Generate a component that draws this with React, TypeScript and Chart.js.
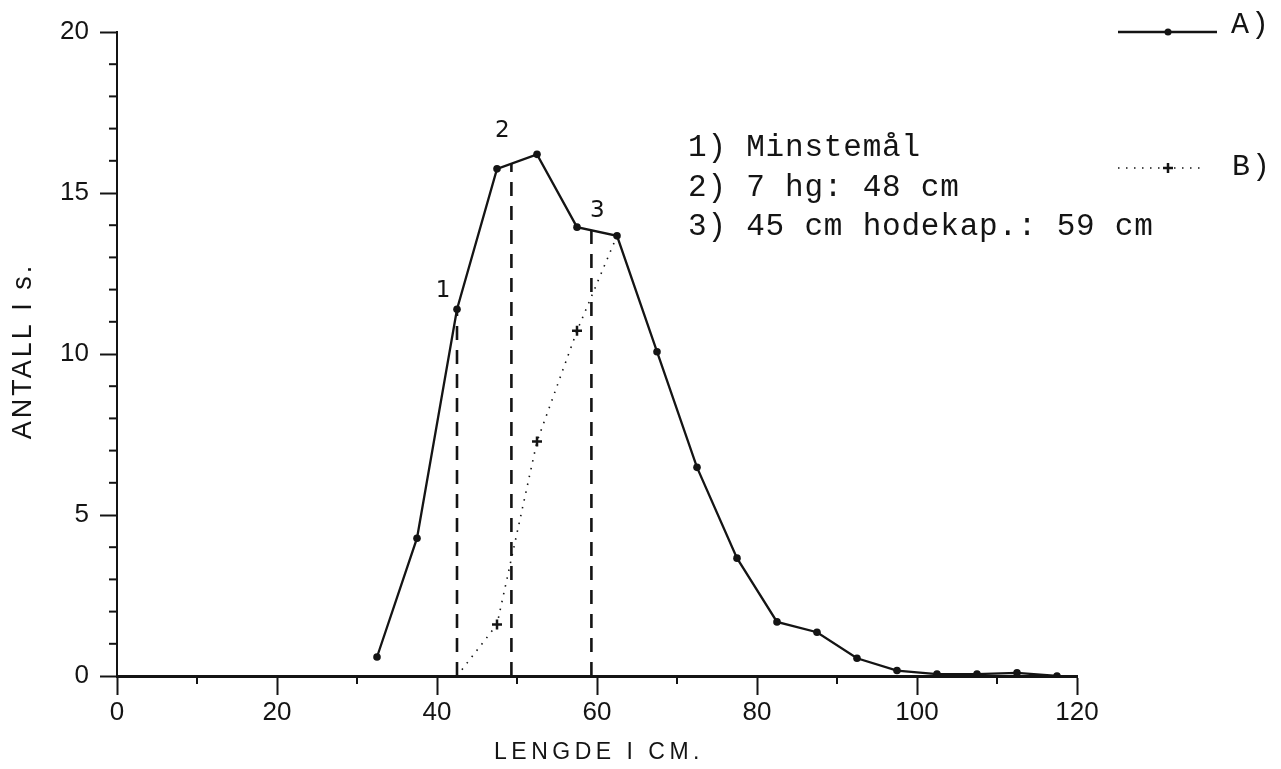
import { useEffect, useRef } from "react";
import { Chart, registerables } from "chart.js";

Chart.register(...registerables);

// ---- data ----
const lengthsA = [32.5, 37.5, 42.5, 47.5, 52.5, 57.5, 62.5, 67.5, 72.5, 77.5, 82.5, 87.5, 92.5, 97.5, 102.5, 107.5, 112.5, 117.5];
const countsA = [0.59, 4.28, 11.39, 15.75, 16.2, 13.94, 13.67, 10.07, 6.48, 3.66, 1.68, 1.36, 0.55, 0.17, 0.06, 0.06, 0.1, 0.0];
const lengthsB = [42.5, 47.5, 52.5, 57.5, 62.5];
const countsB = [0, 1.6, 7.28, 10.72, 13.67];
const markB = [0, 5, 5, 5, 0];
const markerX = [42.5, 49.3, 59.3];
const markerLabels = ["1", "2", "3"];
const notes = ["1) Minstemål", "2) 7 hg: 48 cm", "3) 45 cm hodekap.: 59 cm"];
const legendLabels = ["A)", "B)"];
const xTitle = "LENGDE I CM.";
const yTitle = "ANTALL I s.";
const xRange = [0, 120];
const yRange = [0, 20];
const xMajorStep = 20;
const xMinorStep = 10;
const yMajorStep = 5;
const yMinorStep = 1;

const INK = "#141414";

function valueOnA(x: number): number {
  for (let i = 0; i < lengthsA.length - 1; i++) {
    const x0 = lengthsA[i], x1 = lengthsA[i + 1];
    if (x >= x0 && x <= x1) {
      const t = (x - x0) / (x1 - x0);
      return countsA[i] + t * (countsA[i + 1] - countsA[i]);
    }
  }
  return 0;
}

const markerOffsets = [
  { dx: -14, dy: -18 },
  { dx: -9, dy: -33 },
  { dx: 6, dy: -19 },
];

const decorPlugin = {
  id: "decor",
  afterDraw(chart: any) {
    const ctx: CanvasRenderingContext2D = chart.ctx;
    const xs = chart.scales.x;
    const ys = chart.scales.y;
    const area = chart.chartArea;
    ctx.save();
    ctx.strokeStyle = INK;
    ctx.fillStyle = INK;

    // minor ticks
    ctx.lineWidth = 2;
    for (let v = xRange[0] + xMinorStep; v < xRange[1]; v += xMajorStep) {
      const px = xs.getPixelForValue(v);
      ctx.beginPath();
      ctx.moveTo(px, area.bottom);
      ctx.lineTo(px, area.bottom + 8);
      ctx.stroke();
    }
    for (let v = yRange[0] + yMinorStep; v < yRange[1]; v += yMinorStep) {
      if (v % yMajorStep === 0) continue;
      const py = ys.getPixelForValue(v);
      ctx.beginPath();
      ctx.moveTo(area.left - 8, py);
      ctx.lineTo(area.left, py);
      ctx.stroke();
    }

    // marker labels 1,2,3
    ctx.font = '23px "DejaVu Sans"';
    ctx.textAlign = "center";
    ctx.textBaseline = "middle";
    markerX.forEach((mx, i) => {
      const px = xs.getPixelForValue(mx) + markerOffsets[i].dx;
      const py = ys.getPixelForValue(valueOnA(mx)) + markerOffsets[i].dy;
      ctx.fillText(markerLabels[i], px, py);
    });

    // notes
    ctx.font = '31px "Liberation Mono"';
    (ctx as any).letterSpacing = "0.8px";
    ctx.textAlign = "left";
    ctx.textBaseline = "alphabetic";
    notes.forEach((n, i) => {
      ctx.fillText(n, 688, 156 + i * 39.5);
    });

    // legend
    (ctx as any).letterSpacing = "2px";
    ctx.font = '30px "Liberation Mono"';
    // A
    ctx.lineWidth = 2.4;
    ctx.setLineDash([]);
    ctx.beginPath();
    ctx.moveTo(1118, 32);
    ctx.lineTo(1217, 32);
    ctx.stroke();
    ctx.beginPath();
    ctx.arc(1168, 32, 3.5, 0, Math.PI * 2);
    ctx.fill();
    ctx.fillText(legendLabels[0], 1231, 33);
    // B
    ctx.lineWidth = 1.6;
    ctx.setLineDash([1.5, 6.5]);
    ctx.beginPath();
    ctx.moveTo(1118, 168);
    ctx.lineTo(1202, 168);
    ctx.stroke();
    ctx.setLineDash([]);
    ctx.lineWidth = 2.5;
    ctx.beginPath();
    ctx.moveTo(1163, 168);
    ctx.lineTo(1173, 168);
    ctx.moveTo(1168, 163);
    ctx.lineTo(1168, 173);
    ctx.stroke();
    ctx.fillText(legendLabels[1], 1232, 175);

    // axis titles
    ctx.font = '23px "Liberation Sans"';
    (ctx as any).letterSpacing = "4.5px";
    ctx.textAlign = "center";
    ctx.textBaseline = "middle";
    ctx.fillText(xTitle, 599, 753);
    ctx.save();
    ctx.translate(24, 351);
    ctx.rotate(-Math.PI / 2);
    ctx.font = '27px "Liberation Sans"';
    (ctx as any).letterSpacing = "3px";
    ctx.fillText(yTitle, 0, 0);
    ctx.restore();

    (ctx as any).letterSpacing = "0px";
    ctx.restore();
  },
};

export default function App() {
  const ref = useRef<HTMLCanvasElement | null>(null);

  useEffect(() => {
    if (!ref.current) return;
    const dashed = markerX.map((mx) => ({
      label: "marker",
      data: [
        { x: mx, y: 0 },
        { x: mx, y: valueOnA(mx) },
      ],
      borderColor: INK,
      borderWidth: 2.6,
      borderDash: [14, 10],
      pointRadius: 0,
      fill: false,
    }));
    const chart = new Chart(ref.current, {
      type: "line",
      data: {
        datasets: [
          ...dashed,
          {
            label: "B",
            data: lengthsB.map((x, i) => ({ x, y: countsB[i] })),
            borderColor: INK,
            borderWidth: 1.6,
            borderDash: [1.5, 6.5],
            pointStyle: "cross",
            pointRadius: markB,
            pointBorderWidth: 2.5,
            pointBorderColor: INK,
            fill: false,
          },
          {
            label: "A",
            data: lengthsA.map((x, i) => ({ x, y: countsA[i] })),
            borderColor: INK,
            borderWidth: 2.3,
            pointRadius: 3.8,
            pointBackgroundColor: INK,
            pointBorderColor: INK,
            pointBorderWidth: 0,
            fill: false,
          },
        ] as any,
      },
      options: {
        animation: false,
        responsive: false,
        events: [],
        layout: { padding: { left: 0, top: 32, right: 204, bottom: 0 } },
        plugins: { legend: { display: false }, tooltip: { enabled: false } },
        scales: {
          x: {
            type: "linear",
            min: xRange[0],
            max: xRange[1],
            afterFit: (s: any) => {
              s.height = 93;
            },
            ticks: {
              stepSize: xMajorStep,
              color: INK,
              padding: 2,
              font: { family: "Liberation Sans", size: 26 },
            },
            grid: {
              drawOnChartArea: false,
              drawTicks: true,
              tickLength: 19,
              tickWidth: 2,
              tickColor: INK,
              color: INK,
            },
            border: { display: true, color: INK, width: 3 },
          },
          y: {
            type: "linear",
            min: yRange[0],
            max: yRange[1],
            afterFit: (s: any) => {
              s.width = 117;
            },
            ticks: {
              stepSize: yMajorStep,
              color: INK,
              padding: 11,
              font: { family: "Liberation Sans", size: 26 },
            },
            grid: {
              drawOnChartArea: false,
              drawTicks: true,
              tickLength: 17,
              tickWidth: 2,
              tickColor: INK,
              color: INK,
            },
            border: { display: true, color: INK, width: 2 },
          },
        },
      } as any,
      plugins: [decorPlugin],
    });
    return () => chart.destroy();
  }, []);

  return (
    <canvas
      ref={ref}
      width={1281}
      height={769}
      style={{ position: "absolute", left: 0, top: 0, display: "block", background: "#fff" }}
    />
  );
}
